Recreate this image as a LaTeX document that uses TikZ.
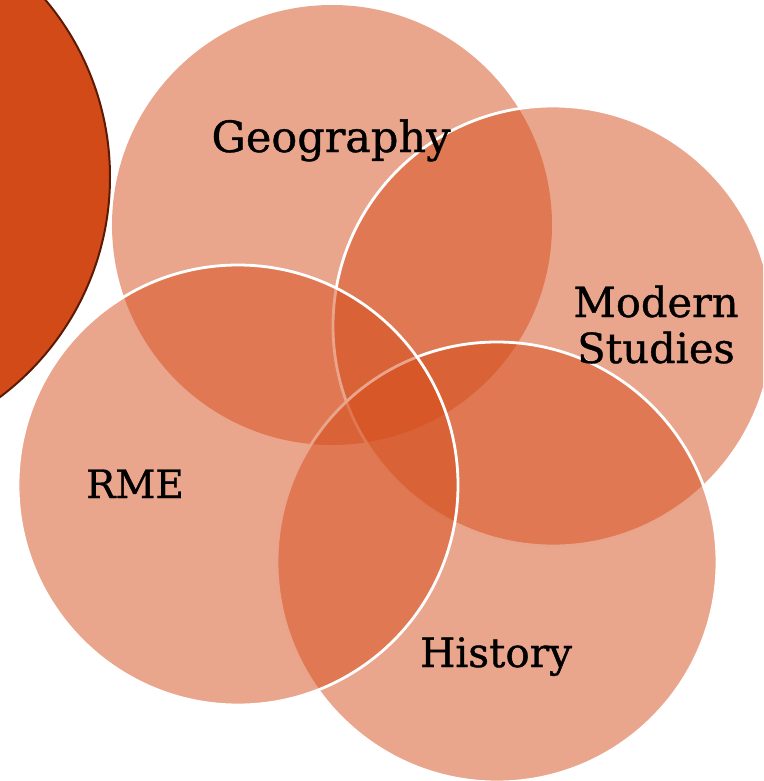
\documentclass[tikz,border=0pt]{standalone}
\usepackage{fontspec}
\setmainfont{DejaVu Serif}
\newfontfamily\slabfont[FakeBold=0.9]{DejaVu Serif}
\definecolor{rust}{HTML}{D54C1B}
\definecolor{deeprust}{HTML}{D24A17}
\definecolor{rustedge}{HTML}{5C1A05}
\tikzset{
  subject/.style={circle, inner sep=0pt, minimum size=440pt, fill=rust, fill opacity=0.5},
  ringed/.style={subject, draw=white, draw opacity=1, line width=2.8pt},
  label/.style={anchor=base, text=black, inner sep=0pt, align=center},
}
\begin{document}
\begin{tikzpicture}[x=1pt, y=-1pt]
  \useasboundingbox (0,0) rectangle (763,781);
  \clip (0,0) rectangle (763,781);
  % large accent disc on the left
  \node[circle, inner sep=0pt, minimum size=550pt, fill=deeprust, draw=rustedge, line width=2pt] (accent) at (-165,177) {};
  % overlapping subject circles
  \node[subject] (geo) at (332,225) {};
  \node[ringed] (mod) at (553,326) {};
  \node[ringed] (his) at (497,562) {};
  \node[ringed] (rme) at (238,485) {};
  % labels
  \node[label, font=\slabfont\fontsize{43}{46}\selectfont] (tgeo) at (331,152) {Geography};
  \node[label, font=\slabfont\fontsize{41.5}{46}\selectfont] (tmod) at (656,363) {Modern\\Studies};
  \node[label, font=\slabfont\fontsize{39}{46}\selectfont] (trme) at (135,498) {RME};
  \node[label, font=\slabfont\fontsize{40.5}{46}\selectfont] (this) at (496,667) {History};
\end{tikzpicture}
\end{document}
